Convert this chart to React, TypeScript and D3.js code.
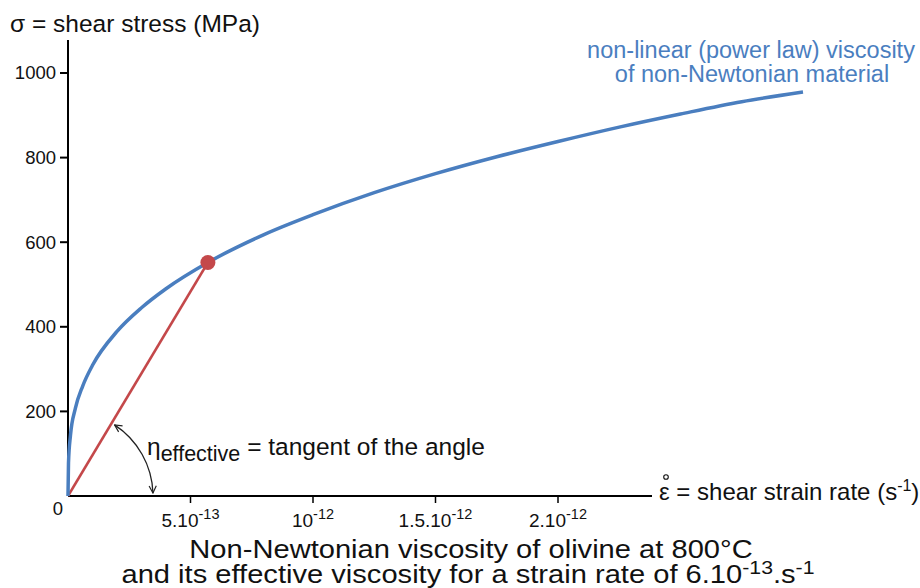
import { useMemo } from 'react';
import * as d3 from 'd3';

// strain rate in units of 1e-12 s^-1, stress in MPa
const strainRate = [0, 0.002, 0.01, 0.03, 0.06, 0.1, 0.2, 0.3, 0.4, 0.571, 0.8, 1.0, 1.25, 1.5, 1.75, 2.0, 2.25, 2.5, 2.75, 3.0];
const stress = [0, 78, 143, 207, 260, 309, 389, 445, 490, 552, 618, 665, 717, 762, 802, 838, 872, 903, 932, 955];

const effectivePoint = { rate: 0.571, stress: 552 };

const yTicks = [0, 200, 400, 600, 800, 1000];
const xTicks = [0.5, 1, 1.5, 2];
const xTickBase = ['5.10', '10', '1.5.10', '2.10'];
const xTickExp = ['-13', '-12', '-12', '-12'];

const FONT = '"Liberation Sans", Arial, sans-serif';
const BLUE = '#4a7ebf';
const RED = '#c4484a';

export default function App() {
  const width = 920;
  const height = 588;
  const originX = 68;
  const originY = 496;

  const x = d3.scaleLinear().domain([0, 0.5]).range([originX, originX + 122.5]);
  const y = d3.scaleLinear().domain([0, 1000]).range([originY, 73]);

  const curve = useMemo(() => {
    const pts: [number, number][] = strainRate.map((r, i) => [r, stress[i]]);
    return d3
      .line<[number, number]>()
      .x((d) => x(d[0]))
      .y((d) => y(d[1]))
      .curve(d3.curveMonotoneX)(pts);
  }, []);

  // angle annotation arc, centered at the origin
  const px = x(effectivePoint.rate);
  const py = y(effectivePoint.stress);
  const angTop = Math.atan2(originY - py, px - originX);
  const r = 85;
  const a1 = angTop - 0.04;
  const a2 = 0.035;
  const p1 = [originX + r * Math.cos(a1), originY - r * Math.sin(a1)];
  const p2 = [originX + r * Math.cos(a2), originY - r * Math.sin(a2)];
  const arcPath = `M${p1[0]},${p1[1]} A${r},${r} 0 0 1 ${p2[0]},${p2[1]}`;

  return (
    <svg
      width={width}
      height={height}
      style={{ position: 'absolute', left: 0, top: 0, background: '#fff' }}
      fontFamily={FONT}
    >
      <defs>
        <marker id="arr" viewBox="0 0 10 10" refX="9" refY="5" markerWidth="9" markerHeight="9" orient="auto-start-reverse" markerUnits="userSpaceOnUse">
          <path d="M1,1 L9,5 L1,9" fill="none" stroke="#222" strokeWidth="1.3" />
        </marker>
      </defs>

      {/* y axis */}
      <line x1={originX} x2={originX} y1={40} y2={originY} stroke="#000" strokeWidth={2} />
      {yTicks.map((t) => (
        <g key={t}>
          {t > 0 && <line x1={originX - 8} x2={originX} y1={y(t)} y2={y(t)} stroke="#000" strokeWidth={2} />}
          <text
            x={t > 0 ? originX - 12 : originX - 5}
            y={t > 0 ? y(t) : y(t) + 13}
            dy="0.35em"
            textAnchor="end"
            fontSize={18.5}
            fill="#111"
          >
            {t}
          </text>
        </g>
      ))}
      <text x={10} y={32} fontSize={24.5} fill="#111">σ = shear stress (MPa)</text>

      {/* x axis */}
      <line x1={originX} x2={652} y1={originY} y2={originY} stroke="#000" strokeWidth={2} />
      {xTicks.map((t, i) => (
        <g key={t}>
          <line x1={x(t)} x2={x(t)} y1={originY} y2={originY + 7} stroke="#000" strokeWidth={1.5} />
          <text x={x(t)} y={originY + 31} textAnchor="middle" fontSize={19} fill="#111">
            {xTickBase[i]}
            <tspan fontSize={14.5} dy={-8}>{xTickExp[i]}</tspan>
          </text>
        </g>
      ))}
      <circle cx={666} cy={477} r={2.3} fill="none" stroke="#111" strokeWidth={1.1} />
      <text x={659} y={500} fontSize={24} fill="#111">
        ε = shear strain rate (s
        <tspan fontSize={16} dy={-9}>-1</tspan>
        <tspan dy={9}>)</tspan>
      </text>

      {/* red effective viscosity line */}
      <line x1={x(0)} y1={y(0)} x2={px} y2={py} stroke={RED} strokeWidth={2.5} />

      {/* power-law curve */}
      <path d={curve ?? ''} fill="none" stroke={BLUE} strokeWidth={3.5} />
      <circle cx={px} cy={py} r={7.5} fill={RED} />

      {/* angle arc */}
      <path d={arcPath} fill="none" stroke="#222" strokeWidth={1.3} markerStart="url(#arr)" markerEnd="url(#arr)" />
      <text x={147} y={455} fontSize={24.5} fill="#111">
        η
        <tspan fontSize={21.5} dy={6}>effective</tspan>
        <tspan fontSize={24.5} dy={-6}> = tangent of the angle</tspan>
      </text>

      {/* curve label */}
      <text x={751} y={58} textAnchor="middle" fontSize={23.5} fill={BLUE}>non-linear (power law) viscosity</text>
      <text x={752} y={82} textAnchor="middle" fontSize={23.5} fill={BLUE}>of non-Newtonian material</text>

      {/* title */}
      <g transform="translate(471,558) scale(1.12,1)">
        <text x={0} y={0} textAnchor="middle" fontSize={26} fill="#111">Non-Newtonian viscosity of olivine at 800°C</text>
      </g>
      <g transform="translate(468,583) scale(1.12,1)">
        <text x={0} y={0} textAnchor="middle" fontSize={26} fill="#111">
          and its effective viscosity for a strain rate of 6.10
          <tspan fontSize={19} dy={-9}>-13</tspan>
          <tspan dy={9}>.s</tspan>
          <tspan fontSize={19} dy={-9}>-1</tspan>
        </text>
      </g>
    </svg>
  );
}
